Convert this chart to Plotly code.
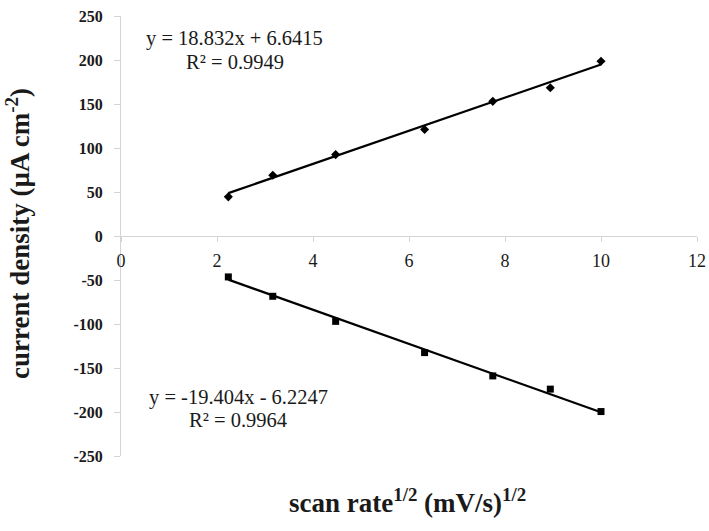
import plotly.graph_objects as go

# data (x = sqrt(scan rate))
x_vals = [2.236, 3.162, 4.472, 6.325, 7.746, 8.944, 10.0]
anodic = [44.5, 69.0, 92.5, 121.0, 153.0, 168.5, 198.5]
cathodic = [-46.5, -68.5, -97.0, -132.5, -159.0, -174.0, -199.5]

# linear fit coefficients (from chart labels)
fit_anodic = [18.832, 6.6415]
fit_cathodic = [-19.404, -6.2247]
label_anodic = ["y = 18.832x + 6.6415", "R² = 0.9949"]
label_cathodic = ["y = -19.404x - 6.2247", "R² = 0.9964"]

x_ticks = [0, 2, 4, 6, 8, 10, 12]
y_ticks = [-250, -200, -150, -100, -50, 0, 50, 100, 150, 200, 250]

serif = "Liberation Serif"
axis_grey = "#d4d4d4"
text_col = "#1a1a1a"

L, R, T, B = 121, 12, 16, 75
PW, PH = 709 - L - R, 531 - T - B

fit_x = [min(x_vals), max(x_vals)]

fig = go.Figure()
fig.add_trace(go.Scatter(
    x=fit_x, y=[fit_anodic[0] * v + fit_anodic[1] for v in fit_x],
    mode="lines", line=dict(color="black", width=2.2), showlegend=False))
fig.add_trace(go.Scatter(
    x=fit_x, y=[fit_cathodic[0] * v + fit_cathodic[1] for v in fit_x],
    mode="lines", line=dict(color="black", width=2.2), showlegend=False))
fig.add_trace(go.Scatter(
    x=x_vals, y=anodic, mode="markers",
    marker=dict(symbol="diamond", size=7, color="black"), showlegend=False))
fig.add_trace(go.Scatter(
    x=x_vals, y=cathodic, mode="markers",
    marker=dict(symbol="square", size=7, color="black"), showlegend=False))

fig.update_layout(
    width=709, height=531,
    margin=dict(l=L, r=R, t=T, b=B, autoexpand=False),
    paper_bgcolor="white", plot_bgcolor="white",
    xaxis=dict(
        range=[0, 12], tickvals=x_ticks, ticktext=[str(v) for v in x_ticks],
        anchor="free", position=0.5, automargin=False,
        showline=True, linecolor=axis_grey, linewidth=1,
        ticks="outside", ticklen=5, tickcolor=axis_grey,
        showgrid=False, zeroline=False,
        tickfont=dict(family=serif, size=18, color=text_col),
        ticklabelstandoff=3,
    ),
    yaxis=dict(
        range=[-250, 250], tickvals=y_ticks, ticktext=[str(v) for v in y_ticks],
        automargin=False,
        showline=True, linecolor=axis_grey, linewidth=1,
        ticks="outside", ticklen=6, tickcolor=axis_grey,
        showgrid=False, zeroline=False,
        tickfont=dict(family=serif, size=16, color=text_col, weight="bold"),
        ticklabelstandoff=8,
    ),
)

annots = [
    dict(x=234, y=38, text=label_anodic[0]),
    dict(x=235, y=62, text=label_anodic[1]),
    dict(x=238, y=397, text=label_cathodic[0]),
    dict(x=238, y=420, text=label_cathodic[1]),
]
for a in annots:
    fig.add_annotation(
        x=(a["x"] - L) / PW, y=1 - (a["y"] - T) / PH,
        xref="paper", yref="paper", text=a["text"], showarrow=False,
        xanchor="center", yanchor="middle",
        font=dict(family=serif, size=20.5, color=text_col))

# axis titles
fig.add_annotation(
    x=(407 - L) / PW, y=1 - (501 - T) / PH, xref="paper", yref="paper",
    text="scan rate<sup>1/2</sup> (mV/s)<sup>1/2</sup>", showarrow=False,
    xanchor="center", yanchor="middle",
    font=dict(family=serif, size=27, color=text_col, weight="bold"))
fig.add_annotation(
    x=(18 - L) / PW, y=1 - (234 - T) / PH, xref="paper", yref="paper",
    text="current density (µA cm<sup>-2</sup>)", showarrow=False, textangle=-90,
    xanchor="center", yanchor="middle",
    font=dict(family=serif, size=27, color=text_col, weight="bold"))

fig.write_html(
    "out.html",
    config={"displayModeBar": False},
    post_script="document.body.style.margin='0';document.body.style.overflow='hidden';",
)
